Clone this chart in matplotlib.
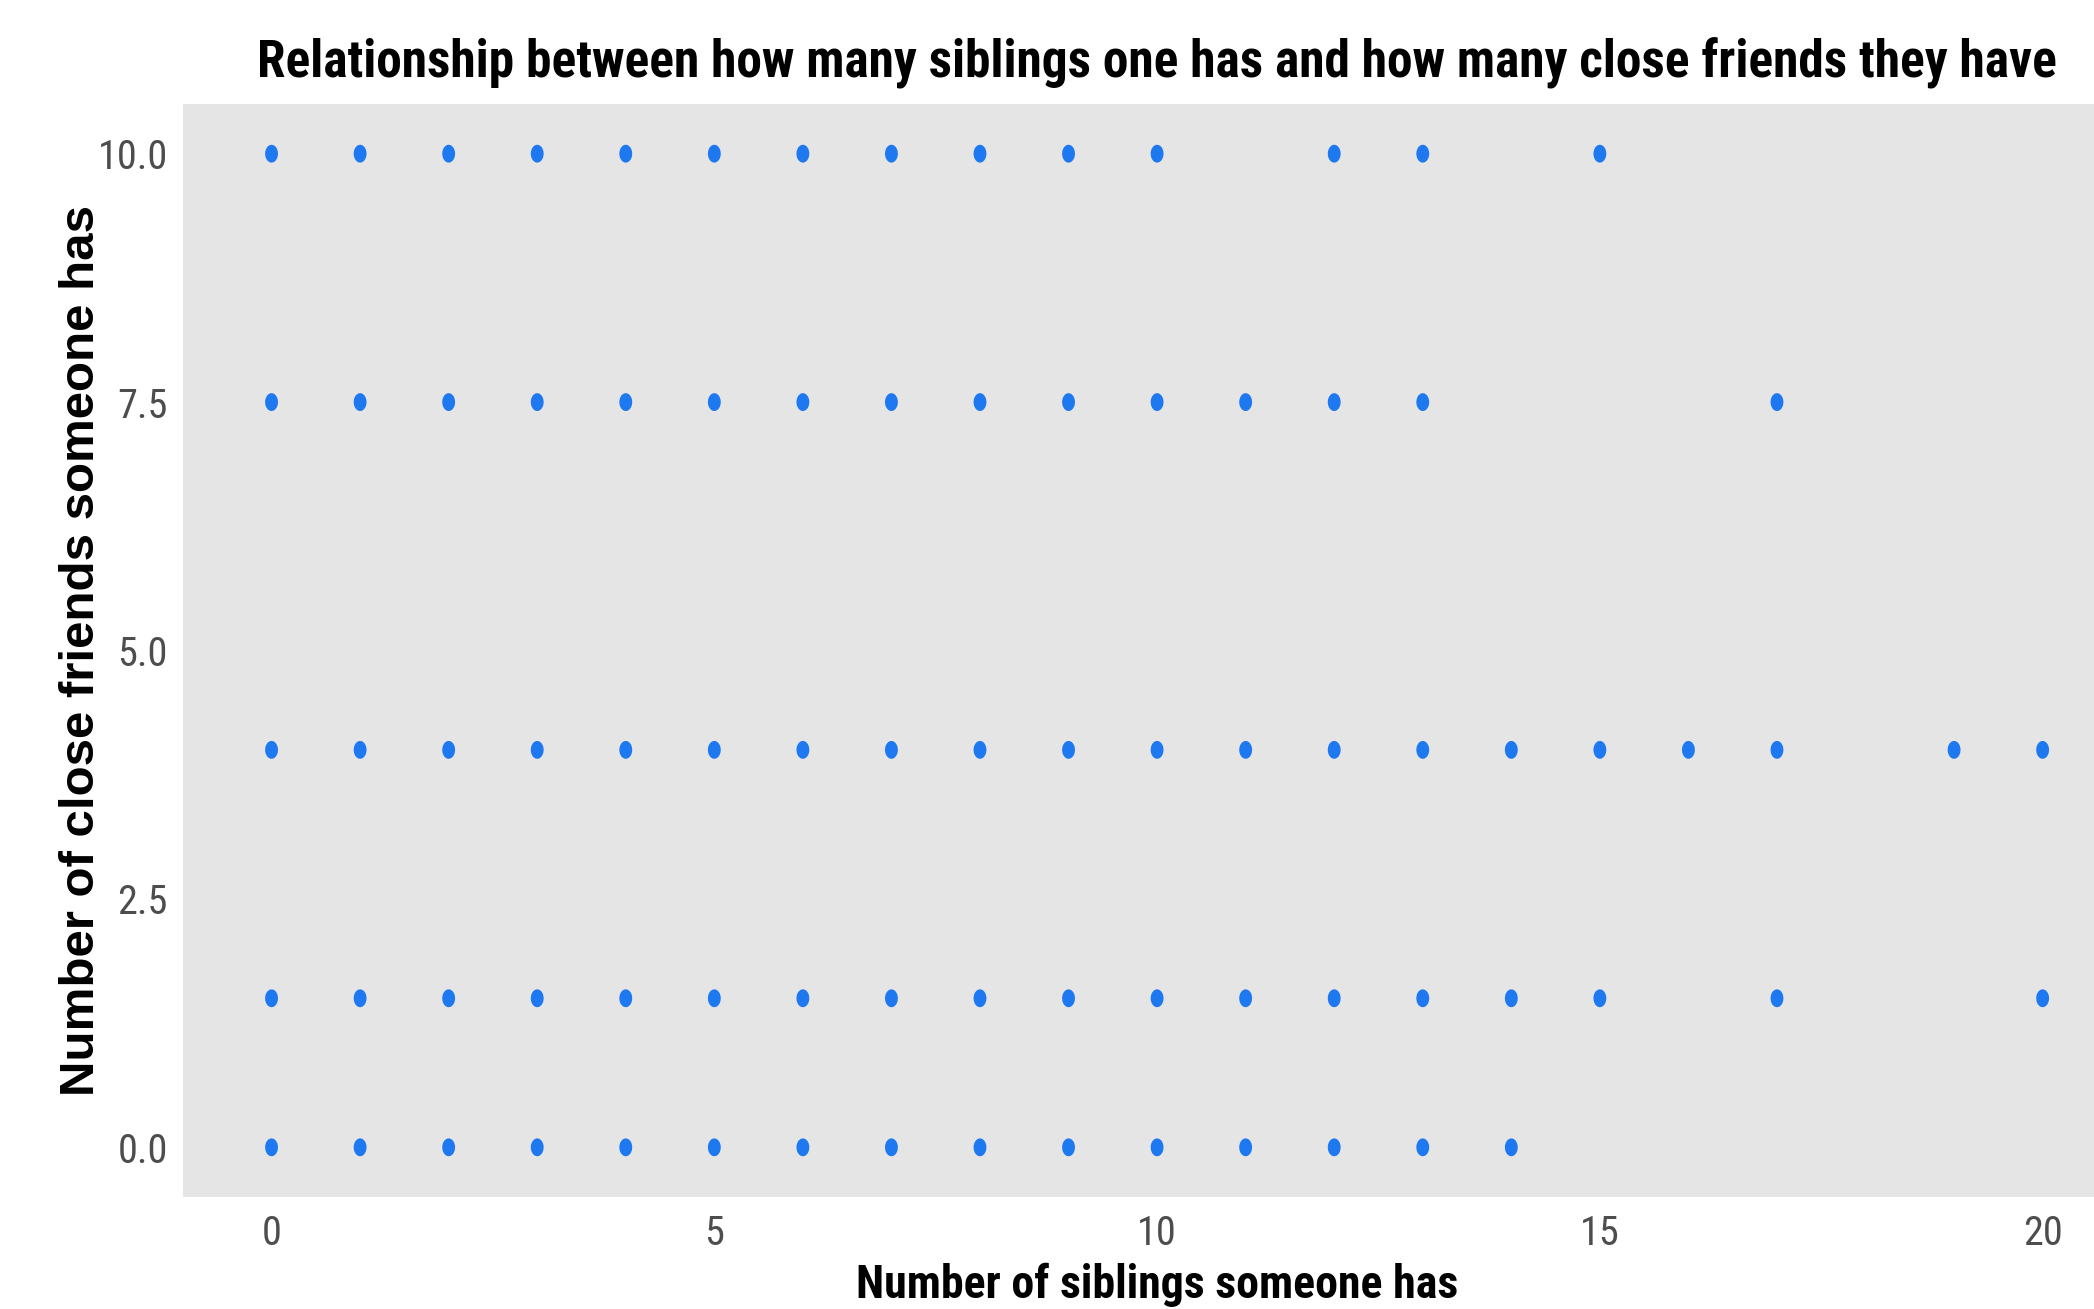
import numpy as np
import matplotlib
matplotlib.use('Agg')
import matplotlib.pyplot as plt
from matplotlib.path import Path

# siblings (x) observed at each close-friends level (y)
FRIENDS_LEVELS = [10.0, 7.5, 4.0, 1.5, 0.0]
SIBLINGS_AT_10 = [0, 1, 2, 3, 4, 5, 6, 7, 8, 9, 10, 12, 13, 15]
SIBLINGS_AT_7_5 = [0, 1, 2, 3, 4, 5, 6, 7, 8, 9, 10, 11, 12, 13, 17]
SIBLINGS_AT_4 = [0, 1, 2, 3, 4, 5, 6, 7, 8, 9, 10, 11, 12, 13, 14, 15, 16, 17, 19, 20]
SIBLINGS_AT_1_5 = [0, 1, 2, 3, 4, 5, 6, 7, 8, 9, 10, 11, 12, 13, 14, 15, 17, 20]
SIBLINGS_AT_0 = [0, 1, 2, 3, 4, 5, 6, 7, 8, 9, 10, 11, 12, 13, 14]

X_TICKS = [0, 5, 10, 15, 20]
Y_TICKS = [0.0, 2.5, 5.0, 7.5, 10.0]

TITLE = 'Relationship between how many siblings one has and how many close friends they have'
X_LABEL = 'Number of siblings someone has'
Y_LABEL = 'Number of close friends someone has'

NARROW = ['Arial Narrow', 'Liberation Sans Narrow', 'Roboto Condensed',
          'Archivo Narrow', 'PT Sans Narrow', 'Liberation Sans', 'DejaVu Sans']
WIDE = ['Liberation Sans', 'DejaVu Sans']
POINT_COLOR = '#1E78F0'
PANEL_COLOR = '#E5E5E5'


def ellipse_marker(aspect=0.72, n=40):
    t = np.linspace(0, 2 * np.pi, n)
    verts = np.column_stack([aspect * np.cos(t), np.sin(t)])
    return Path(verts, closed=True)


def main():
    rows = [SIBLINGS_AT_10, SIBLINGS_AT_7_5, SIBLINGS_AT_4, SIBLINGS_AT_1_5, SIBLINGS_AT_0]
    xs = np.concatenate([np.asarray(r, dtype=float) for r in rows])
    ys = np.concatenate([np.full(len(r), lvl) for r, lvl in zip(rows, FRIENDS_LEVELS)])

    fig = plt.figure(figsize=(20.94, 13.09), dpi=100)
    ax = fig.add_axes([183 / 2094, 112 / 1309, 1 - 183 / 2094, 1093 / 1309])
    ax.set_facecolor(PANEL_COLOR)
    for s in ax.spines.values():
        s.set_visible(False)

    ax.scatter(xs, ys, s=165, marker=ellipse_marker(), color=POINT_COLOR,
               edgecolors='none', zorder=3)

    ax.set_xlim(-1.0, 20.58)
    ax.set_ylim(-0.5, 10.5)
    ax.set_xticks(X_TICKS)
    ax.set_yticks(Y_TICKS)
    ax.set_xticklabels([str(t) for t in X_TICKS])
    ax.set_yticklabels([f'{t:.1f}' for t in Y_TICKS])
    ax.tick_params(length=0, labelsize=29, labelcolor='#4D4D4D')
    ax.tick_params(axis='x', pad=12)
    ax.tick_params(axis='y', pad=11)
    for lab in ax.get_xticklabels() + ax.get_yticklabels():
        lab.set_family(NARROW)

    fig.text(1157 / 2094, 0.941, TITLE, ha='center', va='baseline',
             fontsize=37, fontweight='bold', family=NARROW)
    fig.text(1157 / 2094, 0.0084, X_LABEL, ha='center', va='baseline',
             fontsize=33, fontweight='bold', family=NARROW)
    fig.text(0.039, 0.503, Y_LABEL, ha='center', va='center', rotation=90,
             fontsize=35.5, fontweight='bold', family=WIDE)

    fig.savefig('out.png', dpi=100)


if __name__ == '__main__':
    main()
